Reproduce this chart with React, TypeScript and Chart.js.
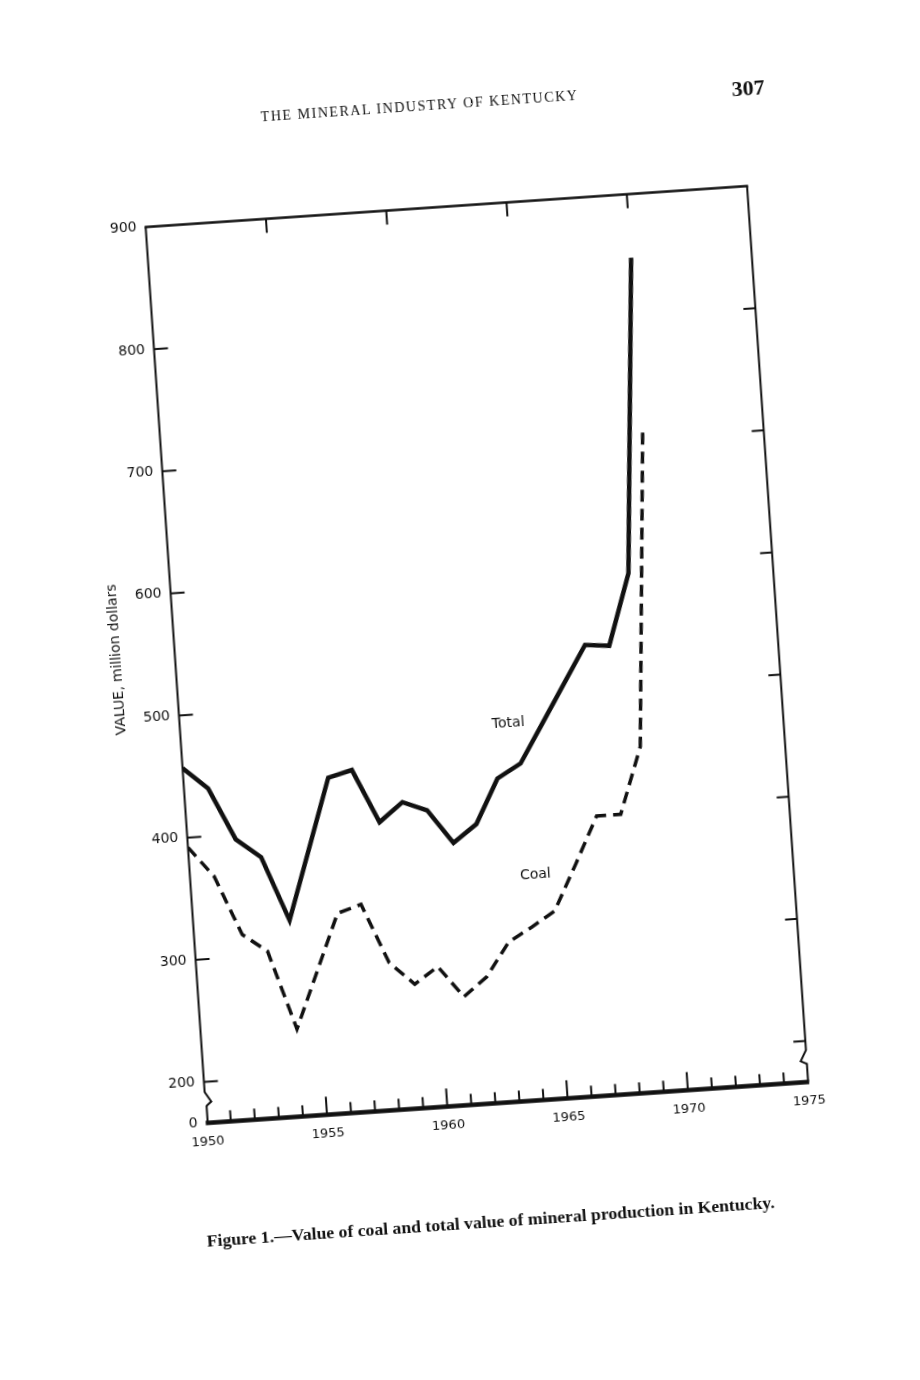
import React, { useEffect, useRef } from "react";
import { Chart, registerables } from "chart.js";

Chart.register(...registerables);

// ---- data ----
const years = [1950, 1951, 1952, 1953, 1954, 1955, 1956, 1957, 1958, 1959, 1960, 1961, 1962, 1963, 1964, 1965, 1966, 1967, 1968, 1969, 1970];
const totalValues = [457, 439, 396, 380, 327, 384, 441, 446, 402, 417, 409, 381, 395, 431, 442, 473, 504, 535, 533, 591, 848];
const coalValues = [392, 367, 318, 303, 238, 284, 330, 336, 287, 268, 281, 255, 270, 297, 308, 320, 357, 395, 395, 449, 709];

const xTickValues = [1950, 1955, 1960, 1965, 1970, 1975];
const yTickValues = [166.5, 200, 300, 400, 500, 600, 700, 800, 900];
const yTickLabels = ["0", "200", "300", "400", "500", "600", "700", "800", "900"];

const seriesNames = ["Total", "Coal"];
const seriesNameYears = [1963.6, 1964.3];
const seriesNameValues = [475, 350];

const yAxisTitle = "VALUE, million dollars";
const headerText = "THE MINERAL INDUSTRY OF KENTUCKY";
const pageNumber = "307";
const captionText = "Figure 1.\u2014Value of coal and total value of mineral production in Kentucky.";

const INK = "#111";
const SANS = '"DejaVu Sans", sans-serif';

const framePlugin = {
  id: "paperFrame",
  afterDatasetsDraw(chart: any) {
    const { ctx, chartArea: a, scales } = chart;
    const x = scales.x;
    const y = scales.y;
    ctx.save();
    ctx.strokeStyle = INK;
    ctx.fillStyle = INK;
    ctx.lineCap = "butt";
    ctx.lineJoin = "miter";

    const line = (x1: number, y1: number, x2: number, y2: number) => {
      ctx.beginPath();
      ctx.moveTo(x1, y1);
      ctx.lineTo(x2, y2);
      ctx.stroke();
    };

    const y200 = y.getPixelForValue(200);

    // top border
    ctx.lineWidth = 2.6;
    line(a.left - 1, a.top, a.right + 1, a.top);

    // left border with axis break
    ctx.lineWidth = 2;
    ctx.beginPath();
    ctx.moveTo(a.left, a.top);
    ctx.lineTo(a.left, y200 + 10);
    ctx.lineTo(a.left + 6, y200 + 20);
    ctx.lineTo(a.left + 1, y200 + 24);
    ctx.lineTo(a.left + 1, a.bottom);
    ctx.stroke();

    // right border with axis break
    ctx.beginPath();
    ctx.moveTo(a.right, a.top);
    ctx.lineTo(a.right, y200 + 9);
    ctx.lineTo(a.right - 6, y200 + 20);
    ctx.lineTo(a.right, y200 + 23);
    ctx.lineTo(a.right, a.bottom);
    ctx.stroke();

    // bottom border
    ctx.lineWidth = 4.5;
    line(a.left - 1, a.bottom, a.right + 1, a.bottom);

    // inward ticks
    ctx.lineWidth = 2;
    for (const v of yTickValues) {
      if (v <= 200 - 1 || v >= 900) continue;
      const py = y.getPixelForValue(v);
      line(a.left, py, a.left + 14, py);
      line(a.right - 12, py, a.right, py);
    }
    for (const v of xTickValues) {
      if (v <= 1950 || v >= 1975) continue;
      const px = x.getPixelForValue(v);
      line(px, a.top, px, a.top + 14);
    }
    for (let yr = xTickValues[0] + 1; yr < xTickValues[xTickValues.length - 1]; yr++) {
      const px = x.getPixelForValue(yr);
      const len = yr % 5 === 0 ? 18 : 11;
      line(px, a.bottom, px, a.bottom - len);
    }

    // series names
    ctx.font = `14px ${SANS}`;
    ctx.textAlign = "center";
    ctx.textBaseline = "middle";
    seriesNames.forEach((name, i) => {
      ctx.fillText(name, x.getPixelForValue(seriesNameYears[i]), y.getPixelForValue(seriesNameValues[i]));
    });

    // y axis title
    ctx.save();
    ctx.translate(a.left - 58, y.getPixelForValue(549));
    ctx.rotate(-Math.PI / 2);
    ctx.font = `14px ${SANS}`;
    ctx.fillText(yAxisTitle, 0, 0);
    ctx.restore();

    ctx.restore();
  },
};

export default function App() {
  const canvasRef = useRef<HTMLCanvasElement | null>(null);

  useEffect(() => {
    const canvas = canvasRef.current;
    if (!canvas) return;
    const chart = new Chart(canvas, {
      type: "line",
      data: {
        datasets: [
          {
            label: "Total",
            data: years.map((yr, i) => ({ x: yr, y: totalValues[i] })),
            borderColor: INK,
            borderWidth: 4.5,
            pointRadius: 0,
            tension: 0,
            borderJoinStyle: "miter",
            fill: false,
          },
          {
            label: "Coal",
            data: years.map((yr, i) => ({ x: yr, y: coalValues[i] })),
            borderColor: INK,
            borderWidth: 3.5,
            borderDash: [12, 7],
            pointRadius: 0,
            tension: 0,
            borderJoinStyle: "miter",
            fill: false,
          },
        ],
      },
      options: {
        responsive: false,
        animation: false,
        events: [],
        layout: { padding: { left: 105, right: 141.7, top: 205.5, bottom: 236.6 } },
        plugins: { legend: { display: false }, tooltip: { enabled: false }, title: { display: false } },
        scales: {
          x: {
            type: "linear",
            min: 1950,
            max: 1975,
            afterBuildTicks: (s: any) => {
              s.ticks = xTickValues.map((v) => ({ value: v }));
            },
            afterFit: (s: any) => {
              s.height = 40;
            },
            grid: { display: false, drawTicks: false },
            border: { display: false },
            ticks: {
              autoSkip: false,
              maxRotation: 0,
              padding: 11,
              color: INK,
              font: { family: SANS, size: 13 },
              callback: (v: any) => String(v),
            },
          },
          y: {
            type: "linear",
            min: yTickValues[0],
            max: 900,
            afterBuildTicks: (s: any) => {
              s.ticks = yTickValues.map((v) => ({ value: v }));
            },
            afterFit: (s: any) => {
              s.width = 70.5;
            },
            grid: { display: false, drawTicks: false },
            border: { display: false },
            ticks: {
              autoSkip: false,
              padding: 9,
              color: INK,
              font: { family: SANS, size: 14 },
              callback: (_v: any, i: number) => yTickLabels[i],
            },
          },
        },
      },
      plugins: [framePlugin],
    } as any);
    return () => chart.destroy();
  }, []);

  return (
    <div
      style={{
        position: "fixed",
        left: 0,
        top: 0,
        width: 920,
        height: 1380,
        background: "#fff",
        transform: "rotate(-3.9deg)",
        transformOrigin: "477px 654.5px",
      }}
    >
      <div
        style={{
          position: "absolute",
          left: 457,
          top: 104,
          transform: "translate(-50%, -50%)",
          whiteSpace: "nowrap",
          fontFamily: '"Liberation Serif", serif',
          fontSize: 14,
          letterSpacing: "1.55px",
          color: INK,
        }}
      >
        {headerText}
      </div>
      <div
        style={{
          position: "absolute",
          left: 786,
          top: 108,
          transform: "translate(-50%, -50%)",
          whiteSpace: "nowrap",
          fontFamily: '"Liberation Serif", serif',
          fontWeight: "bold",
          fontSize: 22,
          color: INK,
        }}
      >
        {pageNumber}
      </div>
      <canvas
        ref={canvasRef}
        width={920}
        height={1380}
        style={{ position: "absolute", left: 0, top: 0, width: 920, height: 1380 }}
      />
      <div
        style={{
          position: "absolute",
          left: 452,
          top: 1221,
          transform: "translate(-50%, -50%)",
          whiteSpace: "nowrap",
          fontFamily: '"Liberation Serif", serif',
          fontWeight: "bold",
          fontSize: 17.7,
          color: INK,
        }}
      >
        {captionText}
      </div>
    </div>
  );
}
